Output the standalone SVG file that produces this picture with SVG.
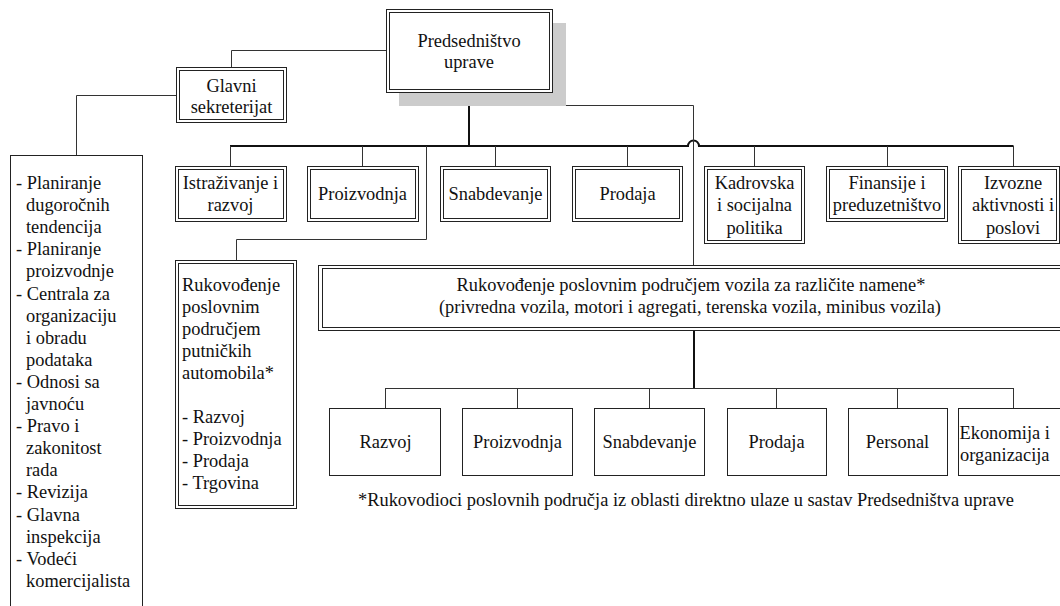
<svg xmlns="http://www.w3.org/2000/svg" width="1060" height="606" viewBox="0 0 1060 606">
  <style>
    .box { fill: #fff; stroke: #222; stroke-width: 1; }
    .inner { fill: none; stroke: #222; stroke-width: 1; }
    .wire { fill: none; stroke: #333; stroke-width: 1; }
    .main { fill: none; stroke: #111; stroke-width: 2; }
    text { font-family: 'Times New Roman', Tinos, 'Liberation Serif', 'Noto Serif', 'Nimbus Roman', FreeSerif, 'DejaVu Serif', Georgia, serif; font-size: 18.4px; fill: #111; }
    .c { text-anchor: middle; }
  </style>
  <rect width="1060" height="606" fill="#fff"/>

  <!-- connectors -->
  <g id="connectors">
    <!-- board to general secretariat -->
    <path class="wire" d="M386,50.5 H231.5 V67"/>
    <path class="wire" d="M176,95.5 H76.5 V155"/>
    <!-- main trunk and bus -->
    <path class="main" d="M469,92 V146"/>
    <path class="main" d="M230,146 H688 A5.5 5.5 0 0 1 699 146 H1013.5"/>
    <path class="wire" d="M469,105.5 H693.5 V265"/>
    <!-- drops to departments -->
    <path class="wire" d="M230.5,146 V166 M362.5,146 V166 M495.5,146 V166 M627.5,146 V166 M754.5,146 V166 M887.5,146 V166 M1013.5,146 V166"/>
    <!-- passenger cars division -->
    <path class="wire" d="M426.5,146 V239.5 H236.5 V260"/>
    <!-- special vehicles division -->
    <path class="main" d="M694,330 V388"/>
    <path class="wire" d="M385.5,388.5 H1013.5 M385.5,388 V408 M517.5,388 V408 M649.5,388 V408 M776.5,388 V408 M897.5,388 V408 M1013.5,388 V408"/>
  </g>

  <!-- executive board with shadow -->
  <g id="predsednistvo">
    <rect x="399" y="23" width="167" height="83" fill="#cccccc"/>
    <rect class="box" x="386.5" y="9.5" width="166" height="83"/>
    <rect class="inner" x="389.5" y="12.5" width="160" height="77"/>
    <text class="c" x="469" y="47">Predsedništvo</text>
    <text class="c" x="469" y="68">uprave</text>
  </g>

  <g id="glavni-sekreterijat">
    <rect class="box" x="176.5" y="67.5" width="110" height="55"/>
    <rect class="inner" x="179.5" y="70.5" width="104" height="49"/>
    <text class="c" x="231.5" y="92">Glavni</text>
    <text class="c" x="231.5" y="113">sekreterijat</text>
  </g>

  <g id="sekreterijat-poslovi">
    <rect class="box" x="10.5" y="155.5" width="132" height="470"/>
    <text y="189">
      <tspan x="16">- Planiranje</tspan>
      <tspan x="26" dy="22.1">dugoročnih</tspan>
      <tspan x="26" dy="22.1">tendencija</tspan>
      <tspan x="16" dy="22.1">- Planiranje</tspan>
      <tspan x="26" dy="22.1">proizvodnje</tspan>
      <tspan x="16" dy="22.1">- Centrala za</tspan>
      <tspan x="26" dy="22.1">organizaciju</tspan>
      <tspan x="26" dy="22.1">i obradu</tspan>
      <tspan x="26" dy="22.1">podataka</tspan>
      <tspan x="16" dy="22.1">- Odnosi sa</tspan>
      <tspan x="26" dy="22.1">javnoću</tspan>
      <tspan x="16" dy="22.1">- Pravo i</tspan>
      <tspan x="26" dy="22.1">zakonitost</tspan>
      <tspan x="26" dy="22.1">rada</tspan>
      <tspan x="16" dy="22.1">- Revizija</tspan>
      <tspan x="16" dy="22.1">- Glavna</tspan>
      <tspan x="26" dy="22.1">inspekcija</tspan>
      <tspan x="16" dy="22.1">- Vodeći</tspan>
      <tspan x="26" dy="22.1">komercijalista</tspan>
    </text>
  </g>

  <!-- departments -->
  <g id="istrazivanje">
    <rect class="box" x="175.5" y="166.5" width="111" height="55"/>
    <rect class="inner" x="178.5" y="169.5" width="105" height="49"/>
    <text class="c" x="230.5" y="189">Istraživanje i</text>
    <text class="c" x="230.5" y="211">razvoj</text>
  </g>
  <g id="proizvodnja">
    <rect class="box" x="307.5" y="166.5" width="111" height="55"/>
    <rect class="inner" x="310.5" y="169.5" width="105" height="49"/>
    <text class="c" x="362.5" y="200">Proizvodnja</text>
  </g>
  <g id="snabdevanje">
    <rect class="box" x="440.5" y="166.5" width="110" height="55"/>
    <rect class="inner" x="443.5" y="169.5" width="104" height="49"/>
    <text class="c" x="495.5" y="200">Snabdevanje</text>
  </g>
  <g id="prodaja">
    <rect class="box" x="572.5" y="166.5" width="110" height="55"/>
    <rect class="inner" x="575.5" y="169.5" width="104" height="49"/>
    <text class="c" x="627.5" y="200">Prodaja</text>
  </g>
  <g id="kadrovska">
    <rect class="box" x="704.5" y="166.5" width="100" height="77"/>
    <rect class="inner" x="707.5" y="169.5" width="94" height="71"/>
    <text class="c" x="754.5" y="189">Kadrovska</text>
    <text class="c" x="754.5" y="211">i socijalna</text>
    <text class="c" x="754.5" y="234">politika</text>
  </g>
  <g id="finansije">
    <rect class="box" x="826.5" y="166.5" width="121" height="55"/>
    <rect class="inner" x="829.5" y="169.5" width="115" height="49"/>
    <text class="c" x="887" y="189">Finansije i</text>
    <text class="c" x="887" y="211">preduzetništvo</text>
  </g>
  <g id="izvozne">
    <rect class="box" x="958.5" y="166.5" width="101" height="77"/>
    <rect class="inner" x="961.5" y="169.5" width="95" height="71"/>
    <text class="c" x="1013" y="189">Izvozne</text>
    <text class="c" x="1013" y="211">aktivnosti i</text>
    <text class="c" x="1013" y="234">poslovi</text>
  </g>

  <!-- passenger cars division -->
  <g id="putnicki-automobili">
    <rect class="box" x="175.5" y="260.5" width="121" height="248"/>
    <rect class="inner" x="178.5" y="263.5" width="115" height="242"/>
    <text y="291">
      <tspan x="182">Rukovođenje</tspan>
      <tspan x="182" dy="22">poslovnim</tspan>
      <tspan x="182" dy="22">područjem</tspan>
      <tspan x="182" dy="22">putničkih</tspan>
      <tspan x="182" dy="22">automobila*</tspan>
      <tspan x="182" dy="44">- Razvoj</tspan>
      <tspan x="182" dy="22">- Proizvodnja</tspan>
      <tspan x="182" dy="22">- Prodaja</tspan>
      <tspan x="182" dy="22">- Trgovina</tspan>
    </text>
  </g>

  <!-- special-purpose vehicles division -->
  <g id="vozila-namene">
    <rect class="box" x="318.5" y="265.5" width="760" height="65"/>
    <rect class="inner" x="322.5" y="268.5" width="752" height="59"/>
    <text class="c" x="691" y="291">Rukovođenje poslovnim područjem vozila za različite namene*</text>
    <text class="c" x="690" y="313">(privredna vozila, motori i agregati, terenska vozila, minibus vozila)</text>
  </g>

  <g id="razvoj">
    <rect class="box" x="329.5" y="408.5" width="111" height="67"/>
    <text class="c" x="385.5" y="448">Razvoj</text>
  </g>
  <g id="proizvodnja-2">
    <rect class="box" x="462.5" y="408.5" width="110" height="67"/>
    <text class="c" x="517.5" y="448">Proizvodnja</text>
  </g>
  <g id="snabdevanje-2">
    <rect class="box" x="594.5" y="408.5" width="110" height="67"/>
    <text class="c" x="649.5" y="448">Snabdevanje</text>
  </g>
  <g id="prodaja-2">
    <rect class="box" x="727.5" y="408.5" width="99" height="67"/>
    <text class="c" x="776.5" y="448">Prodaja</text>
  </g>
  <g id="personal">
    <rect class="box" x="848.5" y="408.5" width="99" height="67"/>
    <text class="c" x="897.5" y="448">Personal</text>
  </g>
  <g id="ekonomija">
    <rect class="box" x="958.5" y="408.5" width="120" height="67"/>
    <text x="959.5" y="439">Ekonomija i</text>
    <text x="960" y="461">organizacija</text>
  </g>

  <text x="358" y="506">*Rukovodioci poslovnih područja iz oblasti direktno ulaze u sastav Predsedništva uprave</text>
</svg>
